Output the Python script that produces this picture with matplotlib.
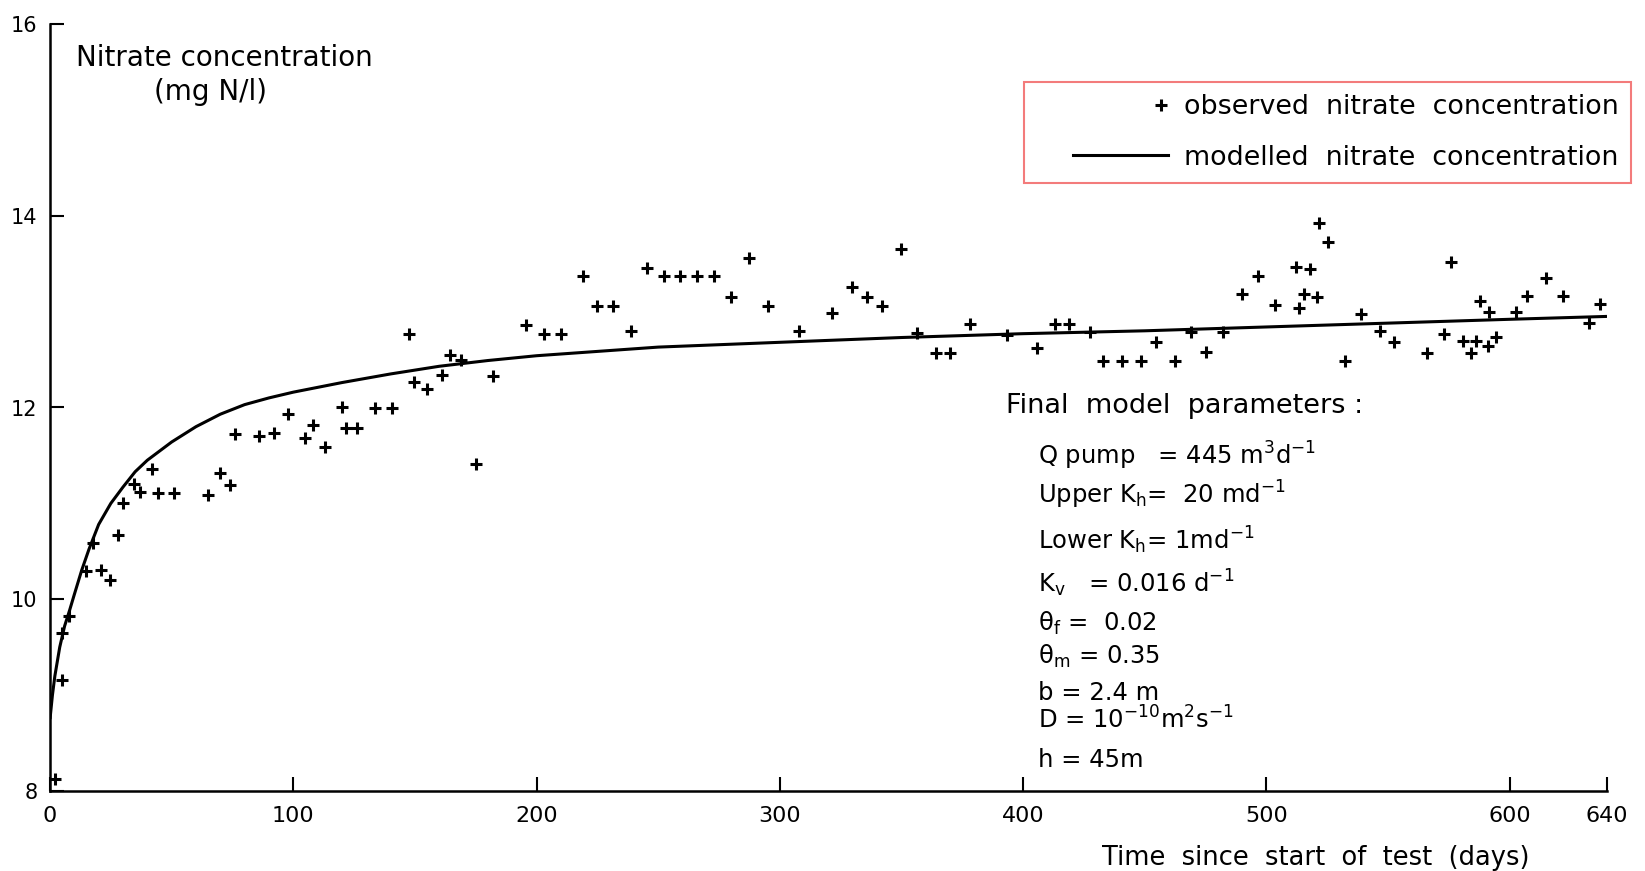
import numpy as np
import matplotlib
matplotlib.use("Agg")
import matplotlib.pyplot as plt
from matplotlib.lines import Line2D
from matplotlib.legend_handler import HandlerLine2D

plt.rcParams['font.family'] = ['DejaVu Sans']
plt.rcParams['mathtext.fontset'] = 'dejavusans'
plt.rcParams['mathtext.default'] = 'regular'

# observed nitrate concentration (mg N/l) vs time since start of test (days)
obs_days = [2, 5, 5, 8, 15, 17.5, 21, 24.5, 28, 30, 34.5, 37, 42, 44.5, 51, 65, 70, 74, 76, 86,
            92, 98, 105, 108, 113, 120, 121.5, 126, 133.5, 140.5, 147.5, 149.5, 155, 161, 164.5,
            169, 175, 182, 195.5, 203, 210, 219, 225, 231.5, 239, 245.5, 252.5, 259, 266, 273,
            280, 287.5, 295, 308, 321.5, 329.5, 336, 342, 350, 356.5, 364, 370, 378, 393.5,
            405.5, 413, 419, 427.5, 433, 440.5, 448.5, 454.5, 462.5, 469, 475, 482, 490, 496.5,
            503.5, 512, 513.5, 515.5, 518, 521, 521.5, 525.5, 532.5, 539, 546.5, 552.5, 566,
            573, 576, 581, 584, 586, 588, 591, 591.5, 594.5, 602.5, 607, 615, 622, 632.5, 637]
obs_conc = [8.12, 9.16, 9.65, 9.83, 10.29, 10.59, 10.3, 10.2, 10.67, 11.0, 11.2, 11.12, 11.36,
            11.11, 11.11, 11.09, 11.32, 11.19, 11.72, 11.7, 11.73, 11.93, 11.68, 11.82, 11.59,
            12.0, 11.79, 11.79, 11.99, 11.99, 12.77, 12.27, 12.19, 12.34, 12.55, 12.5, 11.41,
            12.33, 12.86, 12.77, 12.77, 13.37, 13.06, 13.06, 12.8, 13.45, 13.37, 13.37, 13.37,
            13.37, 13.15, 13.56, 13.06, 12.8, 12.99, 13.26, 13.15, 13.06, 13.65, 12.78, 12.57,
            12.57, 12.87, 12.76, 12.62, 12.87, 12.87, 12.79, 12.49, 12.48, 12.48, 12.68, 12.49,
            12.79, 12.58, 12.79, 13.18, 13.37, 13.07, 13.47, 13.04, 13.18, 13.44, 13.15, 13.92,
            13.73, 12.49, 12.98, 12.8, 12.68, 12.57, 12.77, 13.52, 12.69, 12.57, 12.69, 13.11,
            12.64, 13.0, 12.74, 13.0, 13.16, 13.35, 13.16, 12.88, 13.08]

# modelled curve
model_days = [0, 1, 2, 4, 6, 8, 10, 13, 16, 20, 25, 30, 35, 40, 50, 60, 70, 80, 90, 100,
              120, 140, 160, 180, 200, 250, 300, 350, 400, 450, 500, 550, 600, 640]
model_conc = [8.75, 9.0, 9.2, 9.5, 9.72, 9.88, 10.05, 10.3, 10.52, 10.78, 11.0, 11.17, 11.33,
              11.45, 11.64, 11.8, 11.93, 12.03, 12.1, 12.16, 12.26, 12.35, 12.43, 12.49,
              12.54, 12.63, 12.68, 12.73, 12.77, 12.80, 12.84, 12.88, 12.92, 12.95]

x_ticks = [0, 100, 200, 300, 400, 500, 600, 640]
y_ticks = [8, 10, 12, 14, 16]

params = [r"Q pump   = 445 m$^3$d$^{-1}$",
          r"Upper K$_h$=  20 md$^{-1}$",
          r"Lower K$_h$= 1md$^{-1}$",
          r"K$_v$   = 0.016 d$^{-1}$",
          r"$\theta_f$ =  0.02",
          r"$\theta_m$ = 0.35",
          r"b = 2.4 m",
          r"D = 10$^{-10}$m$^2$s$^{-1}$",
          r"h = 45m"]
param_y = [11.50, 11.09, 10.62, 10.17, 9.75, 9.40, 9.02, 8.74, 8.32]


class PartHandle(HandlerLine2D):
    # draw the handle only between two fractions of the handle box
    def __init__(self, start, end=1.0, **kw):
        super().__init__(**kw)
        self.start = start
        self.end = end

    def get_xdata(self, legend, xdescent, ydescent, width, height, fontsize):
        x0 = -xdescent + self.start * width
        x1 = -xdescent + self.end * width
        return [x0, x1], [0.5 * (x0 + x1)]


fig = plt.figure(figsize=(16.45, 8.71), dpi=100)
ax = fig.add_axes([50 / 1645, 80 / 871, 1557 / 1645, 767 / 871])

ax.plot(model_days, model_conc, color='black', linewidth=2.2, solid_capstyle='butt')
ax.plot(obs_days, obs_conc, linestyle='none', marker='+', color='black',
        markersize=8, markeredgewidth=2.2)

ax.set_xlim(0, 640)
ax.set_ylim(8, 16)
ax.set_xticks(x_ticks)
ax.set_yticks(y_ticks)
ax.spines['top'].set_visible(False)
ax.spines['right'].set_visible(False)
for s in ['left', 'bottom']:
    ax.spines[s].set_linewidth(1.8)
ax.tick_params(axis='x', direction='in', length=10, width=1.5, pad=11, labelsize=16)
ax.tick_params(axis='y', direction='in', length=10, width=1.5, pad=9, labelsize=15)

ax.set_xlabel("Time  since  start  of  test  (days)", fontsize=18.5)
ax.xaxis.set_label_coords(0.813, -0.071)

ax.text(71.5, 15.65, "Nitrate concentration", fontsize=20, ha='center', va='center')
ax.text(66, 15.29, "(mg N/l)", fontsize=20, ha='center', va='center')

ax.text(393, 12.02, "Final  model  parameters :", fontsize=19.5, va='center')
for txt, y in zip(params, param_y):
    ax.text(406, y, txt, fontsize=17.5, va='center')

h_obs = Line2D([], [], linestyle='none', marker='+', color='black', markersize=8,
               markeredgewidth=2.2)
h_mod = Line2D([], [], color='black', linewidth=2.2)
leg = ax.legend([h_obs, h_mod], ["observed  nitrate  concentration",
                                 "modelled  nitrate  concentration"],
                loc='upper right', bbox_to_anchor=(1631 / 1645, 1 - 82 / 871),
                bbox_transform=fig.transFigure, borderaxespad=0, fontsize=19.4,
                handlelength=4.9, handletextpad=0.6, borderpad=0.45, labelspacing=0.92,
                fancybox=False,
                handler_map={h_obs: PartHandle(0.9, 1.0), h_mod: PartHandle(0.28)})
leg.get_frame().set_edgecolor('#f05a5a')
leg.get_frame().set_linewidth(1.5)

fig.savefig('out.png', dpi=100)
